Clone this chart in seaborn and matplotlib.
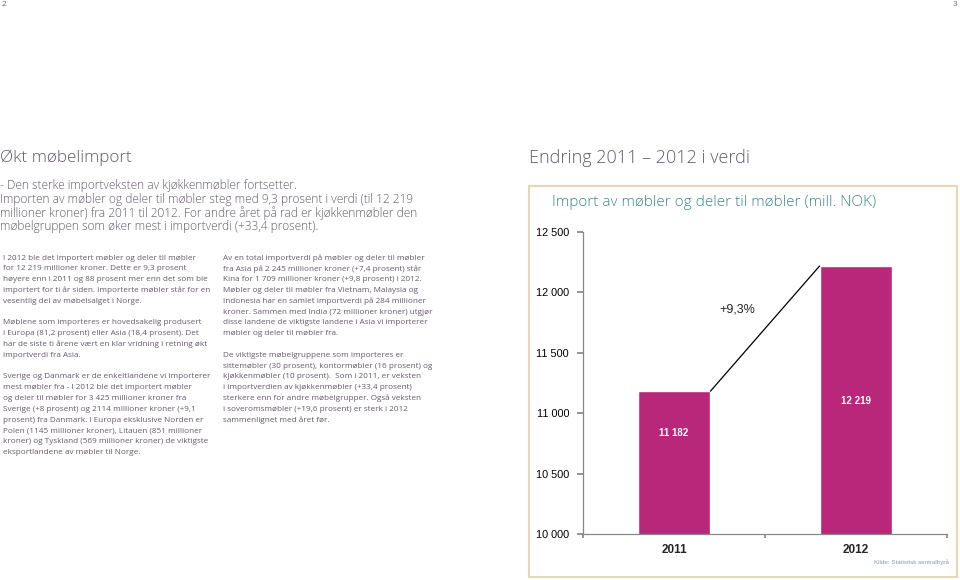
import matplotlib
matplotlib.use("Agg")
import matplotlib.pyplot as plt
import seaborn as sns
import pandas as pd
from matplotlib.patches import Rectangle

# ---------------- data ----------------
years = ["2011", "2012"]
values = [11182, 12219]
value_labels = ["11 182", "12 219"]
change_label = "+9,3%"
yticks = [10000, 10500, 11000, 11500, 12000, 12500]
ytick_labels = ["10 000", "10 500", "11 000", "11 500", "12 000", "12 500"]

page_left = "2"
page_right = "3"
left_title = "Økt møbelimport"
left_intro = [
    "- Den sterke importveksten av kjøkkenmøbler fortsetter.",
    "Importen av møbler og deler til møbler steg med 9,3 prosent i verdi (til 12 219",
    "millioner kroner) fra 2011 til 2012. For andre året på rad er kjøkkenmøbler den",
    "møbelgruppen som øker mest i importverdi (+33,4 prosent).",
]
col1 = [
    "I 2012 ble det importert møbler og deler til møbler",
    "for 12 219 millioner kroner. Dette er 9,3 prosent",
    "høyere enn i 2011 og 88 prosent mer enn det som ble",
    "importert for ti år siden. Importerte møbler står for en",
    "vesentlig del av møbelsalget i Norge.",
    "",
    "Møblene som importeres er hovedsakelig produsert",
    "i Europa (81,2 prosent) eller Asia (18,4 prosent). Det",
    "har de siste ti årene vært en klar vridning i retning økt",
    "importverdi fra Asia.",
    "",
    "Sverige og Danmark er de enkeltlandene vi importerer",
    "mest møbler fra - I 2012 ble det importert møbler",
    "og deler til møbler for 3 425 millioner kroner fra",
    "Sverige (+8 prosent) og 2114 millioner kroner (+9,1",
    "prosent) fra Danmark. I Europa eksklusive Norden er",
    "Polen (1145 millioner kroner), Litauen (851 millioner",
    "kroner) og Tyskland (569 millioner kroner) de viktigste",
    "eksportlandene av møbler til Norge.",
]
col2 = [
    "Av en total importverdi på møbler og deler til møbler",
    "fra Asia på 2 245 millioner kroner (+7,4 prosent) står",
    "Kina for 1 709 millioner kroner (+9,8 prosent) i 2012.",
    "Møbler og deler til møbler fra Vietnam, Malaysia og",
    "Indonesia har en samlet importverdi på 284 millioner",
    "kroner. Sammen med India (72 millioner kroner) utgjør",
    "disse landene de viktigste landene i Asia vi importerer",
    "møbler og deler til møbler fra.",
    "",
    "De viktigste møbelgruppene som importeres er",
    "sittemøbler (30 prosent), kontormøbler (16 prosent) og",
    "kjøkkenmøbler (10 prosent).  Som i 2011, er veksten",
    "i importverdien av kjøkkenmøbler (+33,4 prosent)",
    "sterkere enn for andre møbelgrupper. Også veksten",
    "i soveromsmøbler (+19,6 prosent) er sterk i 2012",
    "sammenlignet med året før.",
]
right_title = "Endring 2011 \u2013 2012 i verdi"
chart_title = "Import av møbler og deler til møbler (mill. NOK)"
source = "Kilde: Statistisk sentralbyrå"

# ---------------- style ----------------
sns.set_theme(style="white")
plt.rcParams["font.family"] = ["Open Sans", "DejaVu Sans"]

W, H = 960, 580
fig = plt.figure(figsize=(W / 100, H / 100), dpi=100)
fig.patch.set_facecolor("white")

TXT = "#66596a"
BAR = "#b9277a"
TEAL = "#3f8a86"
LIGHT = 300


def fx(px):
    return px / W


def fy(py):
    return 1 - py / H


# page numbers
fig.text(fx(2), fy(5), page_left, fontsize=6, color="#666666", va="center", ha="left")
fig.text(fx(957), fy(5), page_right, fontsize=6, color="#666666", va="center", ha="right")

# left header
fig.text(fx(0), fy(158), left_title, fontsize=12.3, color=TXT, va="center", ha="left",
         fontweight=LIGHT)
for i, line in enumerate(left_intro):
    fig.text(fx(0), fy(186 + i * 13.4), line, fontsize=8.6, color=TXT, va="center", ha="left",
             fontweight=LIGHT)

for i, line in enumerate(col1):
    if line:
        fig.text(fx(3), fy(258 + i * 10.8), line, fontsize=5.9, color=TXT, va="center",
                 ha="left")
for i, line in enumerate(col2):
    if line:
        fig.text(fx(223), fy(258 + i * 10.8), line, fontsize=5.9, color=TXT, va="center",
                 ha="left")

# right header
fig.text(fx(529), fy(158), right_title, fontsize=13.0, color=TXT, va="center", ha="left",
         fontweight=LIGHT)

# chart frame
frame = Rectangle((fx(529), fy(577)), fx(957 - 529), (577 - 186) / H,
                  transform=fig.transFigure, fill=False, edgecolor="#e8d6b8", linewidth=1.5)
fig.add_artist(frame)
fig.text(fx(552), fy(203), chart_title, fontsize=11.0, color=TEAL, va="center", ha="left",
         fontweight=LIGHT)
fig.text(fx(949), fy(562), source, fontsize=4.5, color="#8a9aa8", va="center", ha="right",
         family=["Liberation Sans", "DejaVu Sans"])

# axes
ax = fig.add_axes([fx(583), fy(534), fx(947 - 583), (534 - 232) / H])
df = pd.DataFrame({"year": years, "value": values})
sns.barplot(data=df, x="year", y="value", color=BAR, width=0.4, saturation=1, ax=ax)
ax.set_xlim(-0.5, 1.5)
ax.set_ylim(10000, 12500)
ax.set_xlabel("")
ax.set_ylabel("")

axis_font = ["Liberation Sans", "DejaVu Sans"]
ax.set_yticks(yticks)
ax.set_yticklabels(ytick_labels, fontsize=7.8, family=axis_font, color="#000000")
ax.set_xticks([-0.5, 0.5, 1.5])
ax.set_xticklabels([])
ax.set_xticks([0, 1], minor=True)
ax.set_xticklabels(years, minor=True, fontsize=8.5, fontweight="bold", family=axis_font)
ax.tick_params(axis="x", which="minor", length=0, pad=7)
ax.tick_params(axis="x", which="major", length=3, color="#888888", direction="out", bottom=True)
ax.tick_params(axis="y", length=4, color="#888888", direction="out", left=True, pad=6)

for s in ["top", "right"]:
    ax.spines[s].set_visible(False)
for s in ["left", "bottom"]:
    ax.spines[s].set_color("#888888")
    ax.spines[s].set_linewidth(0.9)

# connecting line between bar tops
ax.plot([0.2, 0.8], [values[0], values[1]], color="black", linewidth=0.9)
ax.text(0.35, 11860, change_label, fontsize=9, family=axis_font, ha="center", va="center")

# value labels inside bars
ax.text(0, 10838, value_labels[0], fontsize=7, color="white", fontweight="bold",
        family=axis_font, ha="center", va="center")
ax.text(1, 11103, value_labels[1], fontsize=7, color="white", fontweight="bold",
        family=axis_font, ha="center", va="center")

fig.savefig("out.png", dpi=100, facecolor="white")
